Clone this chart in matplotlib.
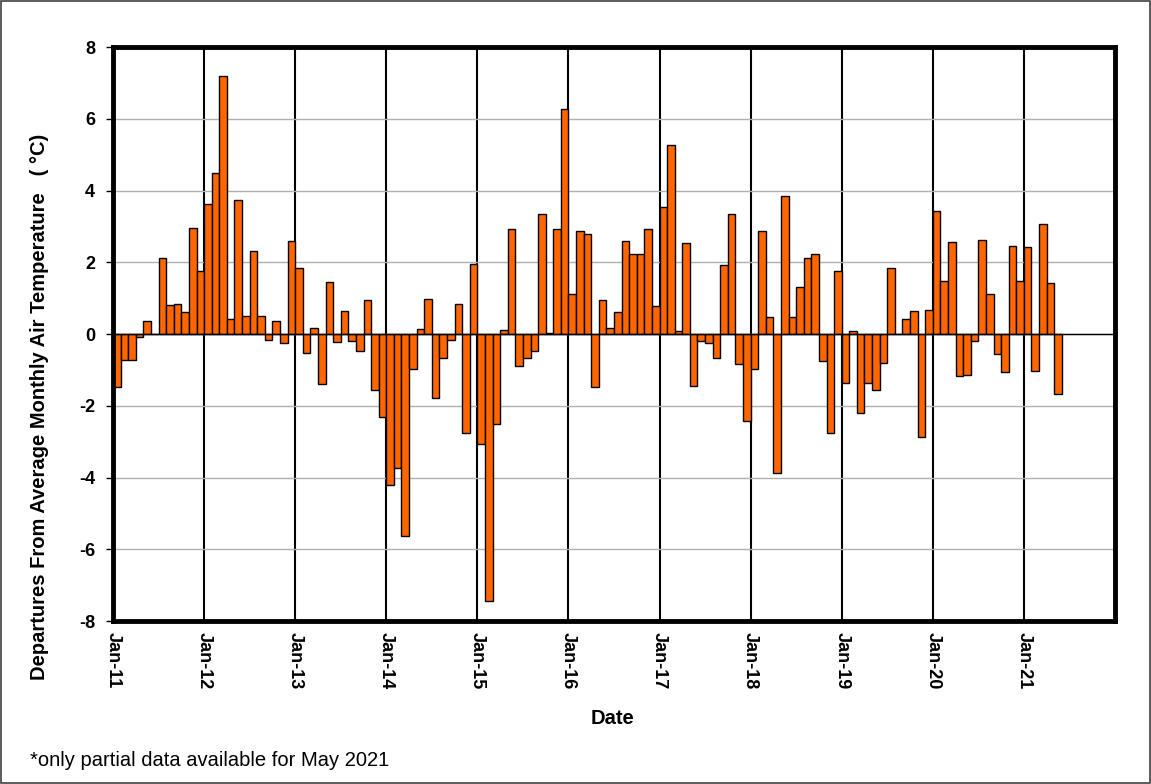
import matplotlib.pyplot as plt
from matplotlib.patches import Rectangle

plt.rcParams['font.family'] = ['Liberation Sans', 'DejaVu Sans']
plt.rcParams['axes.unicode_minus'] = False

# monthly departures (degC), Jan 2011 .. May 2021
y2011 = [-1.49, -0.72, -0.72, -0.07, 0.35, 0.0, 2.13, 0.81, 0.83, 0.62, 2.95, 1.76]
y2012 = [3.63, 4.49, 7.19, 0.43, 3.74, 0.49, 2.32, 0.51, -0.16, 0.35, -0.24, 2.58]
y2013 = [1.84, -0.52, 0.18, -1.39, 1.44, -0.21, 0.64, -0.19, -0.47, 0.94, -1.55, -2.32]
y2014 = [-4.22, -3.73, -5.64, -0.98, 0.14, 0.99, -1.78, -0.68, -0.16, 0.83, -2.75, 1.96]
y2015 = [-3.07, -7.44, -2.52, 0.12, 2.94, -0.90, -0.66, -0.48, 3.34, 0.03, 2.94, 6.28]
y2016 = [1.12, 2.87, 2.78, -1.49, 0.94, 0.18, 0.62, 2.60, 2.23, 2.23, 2.94, 0.78]
y2017 = [3.53, 5.27, 0.09, 2.53, -1.46, -0.19, -0.26, -0.68, 1.93, 3.34, -0.84, -2.43]
y2018 = [-0.98, 2.87, 0.47, -3.88, 3.84, 0.48, 1.32, 2.11, 2.23, -0.76, -2.75, 1.76]
y2019 = [-1.36, 0.08, -2.20, -1.36, -1.55, -0.80, 1.83, 0.0, 0.43, 0.64, -2.86, 0.68]
y2020 = [3.42, 1.47, 2.57, -1.18, -1.15, -0.20, 2.61, 1.11, -0.56, -1.07, 2.46, 1.47]
y2021 = [2.43, -1.02, 3.08, 1.42, -1.66]

values = y2011 + y2012 + y2013 + y2014 + y2015 + y2016 + y2017 + y2018 + y2019 + y2020 + y2021
year_labels = ['Jan-11', 'Jan-12', 'Jan-13', 'Jan-14', 'Jan-15', 'Jan-16',
               'Jan-17', 'Jan-18', 'Jan-19', 'Jan-20', 'Jan-21']

fig = plt.figure(figsize=(11.51, 7.84), dpi=100)
ax = fig.add_axes([0.0982, 0.2079, 0.8705, 0.7321])

months = list(range(len(values)))
ax.bar(months, values, width=1.0, align='edge', color='#FF6600',
       edgecolor='black', linewidth=1.0, zorder=3)

ax.set_xlim(0, 132)
ax.set_ylim(-8, 8)
ax.set_yticks(range(-8, 9, 2))
ax.set_xticks(range(0, 12 * len(year_labels), 12))
ax.set_xticklabels(year_labels, rotation=-90, fontweight='bold', fontsize=13)
for lab in ax.get_yticklabels():
    lab.set_fontweight('bold')
    lab.set_fontsize(13)

ax.grid(axis='y', color='#b0b0b0', linewidth=1, zorder=0)
ax.grid(axis='x', color='black', linewidth=1.5, zorder=1)
ax.axhline(0, color='black', linewidth=1, zorder=4)

ax.tick_params(axis='x', length=0, pad=8)
ax.tick_params(axis='y', direction='out', length=5, width=1, pad=8)
for s in ax.spines.values():
    s.set_linewidth(3.5)
    s.set_zorder(5)

# y label placed like the original (centred a bit below the plot centre)
fig.text(40 / 1151, 1 - 407 / 784,
         'Departures From Average Monthly Air Temperature   ( \u00b0C)',
         fontweight='bold', fontsize=14.5, rotation=90, ha='center', va='center')
fig.text(612 / 1151, 1 - 718 / 784, 'Date', fontweight='bold', fontsize=14.5,
         ha='center', va='center')

fig.text(30 / 1151, 1 - 760 / 784, '*only partial data available for May 2021',
         fontsize=14.5, va='center', ha='left')

fig.patches.append(Rectangle((0.001, 0.001), 0.998, 0.998, transform=fig.transFigure,
                             fill=False, edgecolor='#404040', linewidth=1.2))

fig.savefig('out.png', dpi=100)
